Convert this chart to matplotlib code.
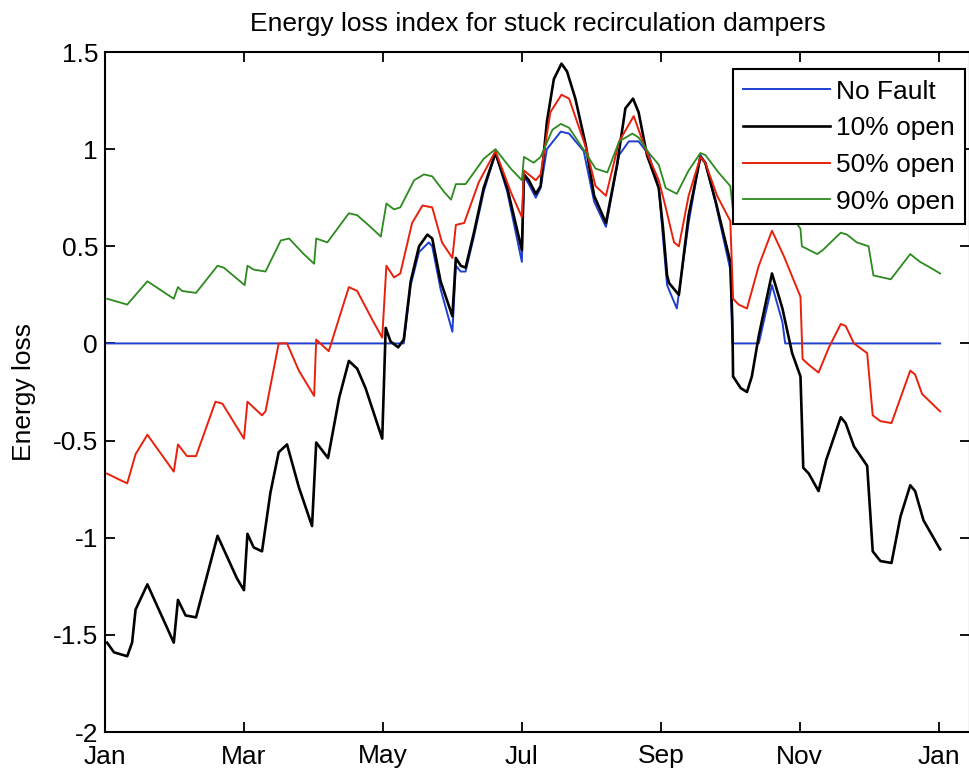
import matplotlib
matplotlib.use("Agg")
import matplotlib.pyplot as plt

# x values are in months from 1 Jan (0) to the next 1 Jan (12)
month_labels = ['Jan', 'Mar', 'May', 'Jul', 'Sep', 'Nov', 'Jan']
month_ticks = [0, 2, 4, 6, 8, 10, 12]
y_ticks = [-2, -1.5, -1, -0.5, 0, 0.5, 1, 1.5]
y_tick_labels = ['-2', '-1.5', '-1', '-0.5', '0', '0.5', '1', '1.5']

series_names = ['No Fault', '10% open', '50% open', '90% open']

nofault_x = [0.03, 4.30, 4.40, 4.52, 4.66, 4.71, 4.83, 5.00, 5.05, 5.12, 5.19, 5.31,
             5.45, 5.62, 5.79, 6.00, 6.03, 6.10, 6.20, 6.27, 6.36, 6.56, 6.68, 6.89,
             7.04, 7.21, 7.40, 7.54, 7.68, 7.83, 7.97, 8.09, 8.23, 8.40, 8.57, 8.64,
             8.79, 9.00, 9.03, 9.41, 9.60, 9.75, 9.79, 12.02]
nofault_y = [0.0, 0.0, 0.30, 0.47, 0.52, 0.50, 0.28, 0.06, 0.40, 0.37, 0.37, 0.55,
             0.78, 0.98, 0.78, 0.42, 0.86, 0.82, 0.75, 0.80, 1.00, 1.09, 1.08, 0.99,
             0.73, 0.60, 0.97, 1.04, 1.04, 0.97, 0.80, 0.30, 0.18, 0.62, 0.97, 0.93,
             0.72, 0.38, 0.0, 0.0, 0.30, 0.11, 0.0, 0.0]

open10_x = [0.03, 0.13, 0.32, 0.39, 0.44, 0.61, 0.99, 1.05, 1.16, 1.31, 1.62, 1.90,
            2.00, 2.05, 2.14, 2.26, 2.38, 2.50, 2.62, 2.79, 2.98, 3.04, 3.21, 3.37,
            3.51, 3.63, 3.75, 3.99, 4.04, 4.11, 4.22, 4.30, 4.40, 4.52, 4.64, 4.71,
            4.83, 5.00, 5.05, 5.12, 5.19, 5.31, 5.45, 5.62, 5.79, 6.00, 6.03, 6.10,
            6.20, 6.27, 6.36, 6.46, 6.57, 6.65, 6.77, 6.92, 7.04, 7.21, 7.37, 7.49,
            7.60, 7.68, 7.80, 7.97, 8.03, 8.09, 8.12, 8.26, 8.40, 8.57, 8.64, 8.79,
            9.00, 9.03, 9.04, 9.15, 9.24, 9.31, 9.41, 9.60, 9.75, 9.89, 10.01, 10.03,
            10.05, 10.13, 10.27, 10.38, 10.59, 10.66, 10.78, 10.97, 11.05, 11.16, 11.32,
            11.45, 11.59, 11.66, 11.78, 12.02]
open10_y = [-1.54, -1.59, -1.61, -1.54, -1.37, -1.24, -1.54, -1.32, -1.40, -1.41, -0.99, -1.21,
            -1.27, -0.98, -1.05, -1.07, -0.77, -0.56, -0.52, -0.74, -0.94, -0.51, -0.59, -0.28,
            -0.09, -0.13, -0.23, -0.49, 0.08, 0.01, -0.02, 0.02, 0.32, 0.50, 0.56, 0.54,
            0.32, 0.14, 0.44, 0.40, 0.39, 0.57, 0.80, 0.98, 0.80, 0.48, 0.87, 0.84,
            0.77, 0.81, 1.14, 1.36, 1.44, 1.40, 1.26, 1.02, 0.76, 0.62, 0.92, 1.21,
            1.26, 1.19, 0.97, 0.80, 0.60, 0.35, 0.31, 0.25, 0.66, 0.96, 0.93, 0.73,
            0.42, 0.11, -0.17, -0.23, -0.25, -0.17, 0.04, 0.36, 0.18, -0.05, -0.17, -0.40,
            -0.64, -0.67, -0.76, -0.60, -0.38, -0.41, -0.53, -0.63, -1.07, -1.12, -1.13,
            -0.89, -0.73, -0.76, -0.91, -1.06]

open50_x = [0.03, 0.20, 0.32, 0.44, 0.61, 0.99, 1.05, 1.18, 1.31, 1.59, 1.69, 2.00,
            2.05, 2.26, 2.31, 2.50, 2.62, 2.79, 3.01, 3.04, 3.22, 3.51, 3.63, 3.85,
            3.99, 4.05, 4.16, 4.25, 4.42, 4.57, 4.71, 4.85, 5.00, 5.05, 5.17, 5.38,
            5.62, 5.84, 6.00, 6.03, 6.20, 6.27, 6.41, 6.57, 6.68, 6.92, 7.06, 7.21,
            7.40, 7.61, 7.80, 7.97, 8.07, 8.19, 8.26, 8.40, 8.57, 8.64, 8.81, 9.00,
            9.04, 9.12, 9.24, 9.41, 9.60, 9.77, 10.01, 10.04, 10.13, 10.27, 10.42, 10.59,
            10.66, 10.78, 10.97, 11.05, 11.16, 11.32, 11.47, 11.59, 11.66, 11.76, 12.02]
open50_y = [-0.67, -0.70, -0.72, -0.57, -0.47, -0.66, -0.52, -0.58, -0.58, -0.30, -0.31, -0.49,
            -0.30, -0.37, -0.35, 0.00, 0.00, -0.14, -0.27, 0.02, -0.04, 0.29, 0.27, 0.12,
            0.03, 0.40, 0.34, 0.36, 0.62, 0.71, 0.70, 0.52, 0.44, 0.61, 0.62, 0.83,
            0.99, 0.78, 0.65, 0.89, 0.84, 0.87, 1.19, 1.28, 1.26, 1.01, 0.81, 0.76,
            1.04, 1.17, 0.98, 0.84, 0.70, 0.52, 0.50, 0.76, 0.96, 0.93, 0.76, 0.63,
            0.23, 0.20, 0.18, 0.40, 0.58, 0.45, 0.24, -0.08, -0.11, -0.15, -0.02, 0.10,
            0.09, 0.00, -0.05, -0.37, -0.40, -0.41, -0.26, -0.14, -0.16, -0.26, -0.35]

open90_x = [0.03, 0.32, 0.61, 0.99, 1.05, 1.11, 1.31, 1.62, 1.71, 2.01, 2.05, 2.14,
            2.31, 2.53, 2.65, 2.86, 3.01, 3.04, 3.20, 3.51, 3.63, 3.82, 3.97, 4.05,
            4.16, 4.25, 4.45, 4.59, 4.71, 4.88, 4.98, 5.05, 5.19, 5.45, 5.62, 5.84,
            6.00, 6.03, 6.17, 6.27, 6.44, 6.56, 6.68, 6.92, 7.06, 7.23, 7.40, 7.59,
            7.68, 7.83, 7.97, 8.07, 8.23, 8.40, 8.57, 8.64, 8.83, 9.00, 9.04, 9.20,
            9.41, 9.60, 9.80, 10.01, 10.03, 10.25, 10.33, 10.59, 10.68, 10.82, 10.99, 11.06,
            11.31, 11.59, 11.73, 11.88, 12.02]
open90_y = [0.23, 0.20, 0.32, 0.23, 0.29, 0.27, 0.26, 0.40, 0.39, 0.30, 0.40, 0.38,
            0.37, 0.53, 0.54, 0.46, 0.41, 0.54, 0.52, 0.67, 0.66, 0.60, 0.55, 0.72,
            0.69, 0.70, 0.84, 0.87, 0.86, 0.78, 0.74, 0.82, 0.82, 0.95, 1.00, 0.90,
            0.84, 0.96, 0.93, 0.96, 1.10, 1.13, 1.11, 0.98, 0.90, 0.88, 1.04, 1.08,
            1.06, 0.98, 0.92, 0.80, 0.77, 0.89, 0.98, 0.97, 0.88, 0.81, 0.68, 0.65,
            0.72, 0.78, 0.70, 0.59, 0.50, 0.46, 0.48, 0.57, 0.56, 0.52, 0.50, 0.35,
            0.33, 0.46, 0.42, 0.39, 0.36]

plt.rcParams['font.family'] = ['Liberation Sans', 'DejaVu Sans']
plt.rcParams['axes.unicode_minus'] = False

fig = plt.figure(figsize=(9.69, 7.72), dpi=100)
ax = fig.add_axes([105 / 969, 40 / 772, 865 / 969, 680 / 772])

ax.plot(nofault_x, nofault_y, color='#1f3fd0', lw=1.4, label=series_names[0])
ax.plot(open10_x, open10_y, color='black', lw=1.9, label=series_names[1])
ax.plot(open50_x, open50_y, color='#e8200c', lw=1.4, label=series_names[2])
ax.plot(open90_x, open90_y, color='#2c8a1e', lw=1.3, label=series_names[3])

ax.set_xlim(0, 12.45)
ax.set_ylim(-2, 1.5)
ax.set_xticks(month_ticks)
ax.set_xticklabels(month_labels)
ax.set_yticks(y_ticks)
ax.set_yticklabels(y_tick_labels)
ax.tick_params(direction='in', length=7, width=1.3, top=True, right=True,
               labelsize=19, pad=5)
ax.tick_params(axis='x', pad=9)
for s in ax.spines.values():
    s.set_linewidth(1.5)

ax.set_title('Energy loss index for stuck recirculation dampers', fontsize=19, pad=15)
ax.set_ylabel('Energy loss', fontsize=19, labelpad=12)

leg = ax.legend(loc='upper right', bbox_to_anchor=(0.9942, 0.975), borderaxespad=0,
                fancybox=False, edgecolor='black', fontsize=19, handlelength=3.3,
                handletextpad=0.2, labelspacing=0.48, borderpad=0.4, framealpha=1)
leg.get_frame().set_linewidth(1.5)

fig.savefig('out.png', dpi=100)
